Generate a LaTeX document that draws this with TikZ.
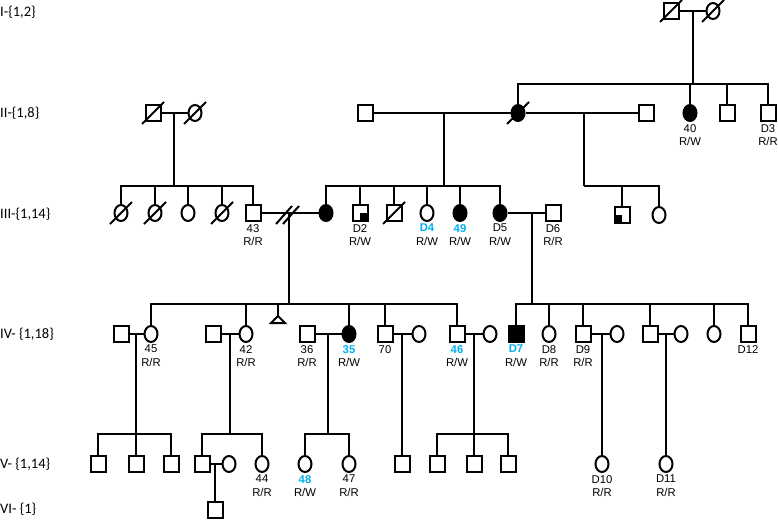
\documentclass[tikz,border=0pt]{standalone}
\usepackage{fontspec}
\setmainfont{Liberation Sans}
\newfontfamily\genfont{Carlito}
\usepackage{xcolor}
\usetikzlibrary{shapes.geometric,calc}
\definecolor{CarrierBlue}{HTML}{00B0F0}

\tikzset{
  line/.style={line width=2pt},
  male/.style={draw,line width=2pt,rectangle,minimum width=15pt,minimum height=16pt,inner sep=0pt,fill=white},
  female/.style={draw,line width=2pt,ellipse,minimum width=13pt,minimum height=16pt,inner sep=0pt,fill=white},
  affected/.style={fill=black},
  lab/.style={font=\fontsize{11.3}{13.5}\selectfont,align=center,inner sep=1pt},
  genlab/.style={font=\genfont\fontsize{14.5}{16}\selectfont,anchor=west,inner sep=0pt},
  every label/.style={lab},
  label distance=1pt
}
\newcommand{\geno}[2]{#1\\#2}
\newcommand{\bgeno}[2]{{\color{CarrierBlue}\bfseries #1}\\#2}
\newcommand{\deceased}[1]{\draw[line] ($(#1)+(-11,11)$) -- ($(#1)+(11,-11)$);}

\begin{document}
\begin{tikzpicture}[x=1pt,y=-1pt]
  \useasboundingbox (0,0) rectangle (778,519);

  % generation labels
  \node[genlab] (gI)   at (0,12)  {I-\{1,2\}};
  \node[genlab] (gII)  at (0,113) {II-\{1,8\}};
  \node[genlab] (gIII) at (0,214) {III-\{1,14\}};
  \node[genlab] (gIV)  at (0,334) {IV- \{1,18\}};
  \node[genlab] (gV)   at (0,464) {V- \{1,14\}};
  \node[genlab] (gVI)  at (0,509) {VI- \{1\}};

  % generation I
  \node[male]   (I1) at (671,11) {};
  \node[female] (I2) at (713,11) {};
  \deceased{I1} \deceased{I2}
  \coordinate (mI) at (693,11);
  \coordinate (sI) at (693,84);
  \draw[line] (I1) -- (I2);
  \draw[line] (mI) -- (sI);

  % generation II
  \node[male]   (II1) at (153,113) {};
  \node[female] (II2) at (195,113) {};
  \deceased{II1} \deceased{II2}
  \node[male]   (II4) at (365,113) {};
  \node[female,affected] (II5) at (518,113) {};
  \node[male]   (II9) at (646,113) {};
  \node[female,affected,label=below:{\geno{40}{R/W}}] (II6) at (690,113) {};
  \node[male]   (II7) at (727,113) {};
  \node[male,label=below:{\geno{D3}{R/R}}] (II8) at (768,113) {};
  \draw[line] (II1) -- (II2);
  \draw[line] (II4) -- (II5) -- (II9);
  \deceased{II5}
  \foreach \c in {II5,II6,II7,II8} \draw[line] (sI) -| (\c);

  \coordinate (mIIa) at (174,113); \coordinate (sIIa) at (174,186);
  \coordinate (mIIb) at (444,113); \coordinate (sIIb) at (444,186);
  \coordinate (mIIc) at (584,113); \coordinate (sIIc) at (584,186);
  \draw[line] (mIIa) -- (sIIa);
  \draw[line] (mIIb) -- (sIIb);
  \draw[line] (mIIc) -- (sIIc);

  % generation III
  \node[female] (III1) at (121,213) {};
  \node[female] (III2) at (155,213) {};
  \node[female] (III3) at (188,213) {};
  \node[female] (III4) at (222,213) {};
  \node[male,label=below:{\geno{43}{R/R}}] (III5) at (253,213) {};
  \deceased{III1} \deceased{III2} \deceased{III4}
  \foreach \c in {III1,III2,III3,III4,III5} \draw[line] (sIIa) -| (\c);

  \node[female,affected] (III6) at (326,213) {};
  \node[male,label=below:{\geno{D2}{R/W}}] (III7) at (360,213) {};
  \fill (III7.center) rectangle (III7.south east);
  \node[male] (III8) at (394,213) {};
  \deceased{III8}
  \node[female,label=below:{\bgeno{D4}{R/W}}] (III9) at (427,213) {};
  \node[female,affected,label=below:{\bgeno{49}{R/W}}] (III10) at (460,213) {};
  \node[female,affected,label=below:{\geno{D5}{R/W}}] (III11) at (500,213) {};
  \node[male,label=below:{\geno{D6}{R/R}}] (III12) at (553,213) {};
  \foreach \c in {III6,III7,III8,III9,III10,III11} \draw[line] (sIIb) -| (\c);

  \node[male] (III13) at (622,215) {};
  \fill (III13.center) rectangle (III13.south west);
  \node[female] (III14) at (659,215) {};
  \foreach \c in {III13,III14} \draw[line] (sIIc) -| (\c);

  \draw[line] (III5) -- (III6);
  \draw[line] (III11) -- (III12);
  \coordinate (brk) at (287,213);
  \draw[line] ($(brk)+(-11,11)$) -- ++(16,-18);
  \draw[line] ($(brk)+(-4,11)$) -- ++(16,-18);
  \coordinate (mIIIa) at (289,213); \coordinate (sIIIa) at (289,304);
  \coordinate (mIIIb) at (532,213); \coordinate (sIIIb) at (532,304);
  \draw[line] (mIIIa) -- (sIIIa);
  \draw[line] (mIIIb) -- (sIIIb);

  % generation IV
  \node[male]   (IV1) at (121,334) {};
  \node[female,label=below:{\geno{45}{R/R}}] (IV2) at (151,334) {};
  \node[male]   (IV3) at (213,334) {};
  \node[female,label=below:{\geno{42}{R/R}}] (IV4) at (246,334) {};
  \coordinate (IVt) at (278,316);
  \draw[line,line join=miter] (IVt) -- ++(-7,7) -- ++(14,0) -- cycle;
  \node[male,label=below:{\geno{36}{R/R}}] (IV5) at (307,334) {};
  \node[female,affected,label=below:{\bgeno{35}{R/W}}] (IV6) at (349,334) {};
  \node[male,label=below:{70}] (IV7) at (385,334) {};
  \node[female] (IV8) at (419,334) {};
  \node[male,label=below:{\bgeno{46}{R/W}}] (IV9) at (457,334) {};
  \node[female] (IV10) at (490,334) {};
  \foreach \c in {IV2,IV4,IVt,IV6,IV7,IV9} \draw[line] (sIIIa) -| (\c);

  \node[male,affected,label=below:{\bgeno{D7}{R/W}}] (IV11) at (516,334) {};
  \node[female,label=below:{\geno{D8}{R/R}}] (IV12) at (549,334) {};
  \node[male,label=below:{\geno{D9}{R/R}}] (IV13) at (583,334) {};
  \node[female] (IV14) at (617,334) {};
  \node[male]   (IV15) at (650,334) {};
  \node[female] (IV16) at (681,334) {};
  \node[female] (IV17) at (714,334) {};
  \node[male,label=below:{D12}] (IV18) at (748,334) {};
  \foreach \c in {IV11,IV12,IV13,IV15,IV17,IV18} \draw[line] (sIIIb) -| (\c);

  \foreach \a/\b in {IV1/IV2,IV3/IV4,IV5/IV6,IV7/IV8,IV9/IV10,IV13/IV14,IV15/IV16}
    \draw[line] (\a) -- (\b);
  \coordinate (mIVa) at (136,334); \coordinate (sIVa) at (136,434);
  \coordinate (mIVb) at (230,334); \coordinate (sIVb) at (230,434);
  \coordinate (mIVc) at (328,334); \coordinate (sIVc) at (328,434);
  \coordinate (mIVd) at (402,334);
  \coordinate (mIVe) at (474,334); \coordinate (sIVe) at (474,434);
  \coordinate (mIVf) at (602,334);
  \coordinate (mIVg) at (666,334);
  \draw[line] (mIVa) -- (sIVa);
  \draw[line] (mIVb) -- (sIVb);
  \draw[line] (mIVc) -- (sIVc);
  \draw[line] (mIVe) -- (sIVe);

  % generation V
  \node[male] (V1) at (98,464) {};
  \node[male] (V2) at (136,464) {};
  \node[male] (V3) at (171,464) {};
  \foreach \c in {V1,V2,V3} \draw[line] (sIVa) -| (\c);

  \node[male]   (V4) at (202,464) {};
  \node[female] (V5) at (229,464) {};
  \node[female,label=below:{\geno{44}{R/R}}] (V6) at (262,464) {};
  \foreach \c in {V4,V6} \draw[line] (sIVb) -| (\c);

  \node[female,label=below:{\bgeno{48}{R/W}}] (V7) at (305,464) {};
  \node[female,label=below:{\geno{47}{R/R}}] (V8) at (349,464) {};
  \foreach \c in {V7,V8} \draw[line] (sIVc) -| (\c);

  \node[male] (V9) at (402,464) {};
  \draw[line] (mIVd) -- (V9);

  \node[male] (V10) at (437,464) {};
  \node[male] (V11) at (474,464) {};
  \node[male] (V12) at (508,464) {};
  \foreach \c in {V10,V11,V12} \draw[line] (sIVe) -| (\c);

  \node[female,label=below:{\geno{D10}{R/R}}] (V13) at (602,464) {};
  \node[female,label=below:{\geno{D11}{R/R}}] (V14) at (666,464) {};
  \draw[line] (mIVf) -- (V13);
  \draw[line] (mIVg) -- (V14);

  % generation VI
  \draw[line] (V4) -- (V5);
  \node[male] (VI1) at (215,510) {};
  \coordinate (mV) at (215,464);
  \draw[line] (mV) -- (VI1);
\end{tikzpicture}
\end{document}
